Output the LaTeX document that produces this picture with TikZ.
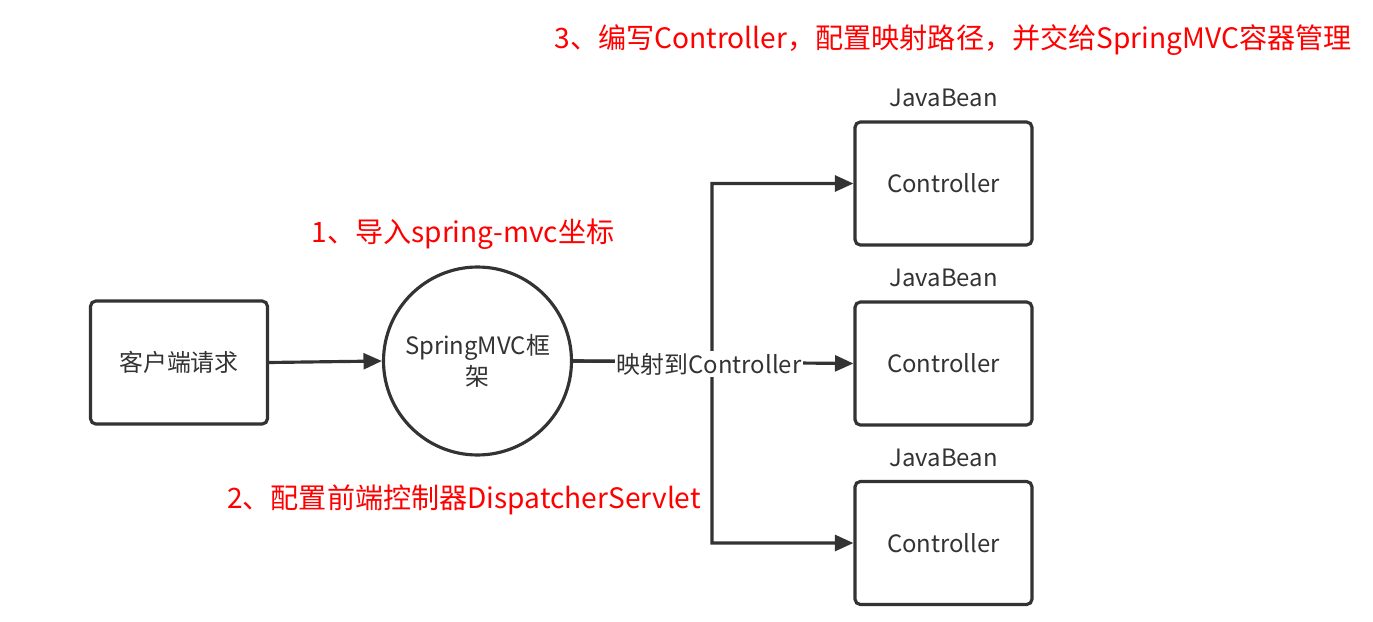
\documentclass[tikz,border=0pt]{standalone}
\usepackage{fontspec}
\setmainfont{Noto Sans CJK SC}
\usetikzlibrary{arrows.meta}
\definecolor{ink}{HTML}{333333}
\definecolor{note}{HTML}{FF0000}
\tikzset{
  box/.style={draw=ink, line width=1.8pt, rounded corners=3pt, fill=white,
    minimum width=3.54cm, minimum height=2.46cm, font=\fontsize{13.6}{16}\selectfont, text=ink},
  hub/.style={draw=ink, line width=1.8pt, circle, minimum size=3.76cm, fill=white,
    font=\fontsize{13.6}{18}\selectfont, text=ink, align=center, inner sep=0pt},
  conn/.style={draw=ink, line width=1.8pt, -{Triangle[length=10.5pt,width=9pt]}},
  plain/.style={font=\fontsize{13.6}{16}\selectfont, text=ink},
  redtxt/.style={font=\fontsize{16}{19}\selectfont, text=note},
  edgelabel/.style={fill=white, inner sep=1pt, font=\fontsize{13.6}{16}\selectfont, text=ink}
}
\begin{document}
\begin{tikzpicture}[x=0.02cm, y=-0.02cm]
\useasboundingbox (0,0) rectangle (1373,622);
\node[box] (client) at (179,362.5) {客户端请求};
\node[hub] (mvc) at (477.5,361) {SpringMVC框\\架};
\node[box] (c1) at (943.5,183.5) {Controller};
\node[box] (c2) at (943.5,363.5) {Controller};
\node[box] (c3) at (943.5,543) {Controller};
\node[plain, anchor=south] (j1) at (c1.north) [yshift=0.14cm] {JavaBean};
\node[plain, anchor=south] (j2) at (c2.north) [yshift=0.14cm] {JavaBean};
\node[plain, anchor=south] (j3) at (c3.north) [yshift=0.14cm] {JavaBean};
\coordinate (split) at (712,362);
\draw[conn] (client.east) -- (mvc.west);
\draw[conn] (mvc.east) -- (split) |- (c1.west);
\draw[conn] (mvc.east) -- (split) |- (c3.west);
\draw[conn] (mvc.east) -- (c2.west);
\node[edgelabel] (map) at (709,364) {映射到Controller};
\node[redtxt] (n1) at (463,234) {1、导入spring-mvc坐标};
\node[redtxt] (n2) at (464,500) {2、配置前端控制器DispatcherServlet};
\node[redtxt] (n3) at (953,40) {3、编写Controller，配置映射路径，并交给SpringMVC容器管理};
\end{tikzpicture}
\end{document}
